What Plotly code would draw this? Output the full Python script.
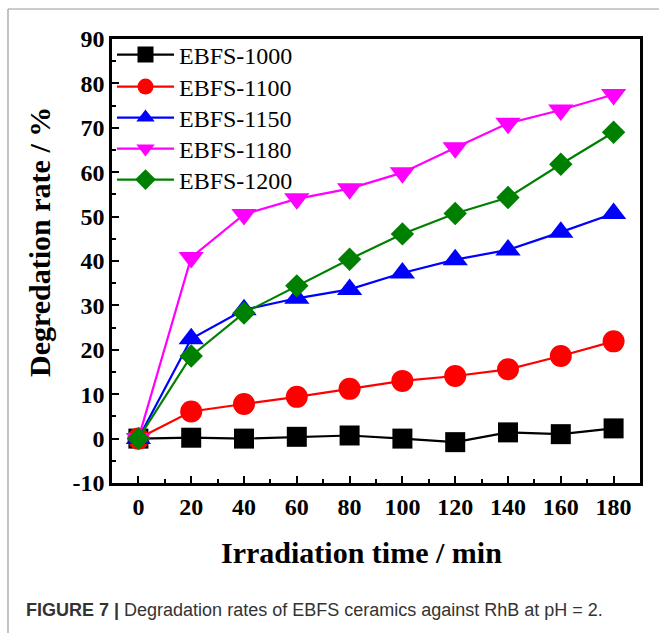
import plotly.graph_objects as go

time_min = [0, 20, 40, 60, 80, 100, 120, 140, 160, 180]

ebfs_1000 = [0, 0.2, 0.0, 0.4, 0.7, 0.0, -0.8, 1.4, 1.0, 2.3]
ebfs_1100 = [0, 6.1, 7.8, 9.4, 11.2, 13.0, 14.1, 15.6, 18.6, 21.9]
ebfs_1150 = [0, 22.5, 29.0, 31.6, 33.6, 37.3, 40.3, 42.5, 46.5, 50.7]
ebfs_1180 = [0, 40.8, 50.5, 54.0, 56.3, 59.9, 65.5, 71.0, 74.0, 77.5]
ebfs_1200 = [0, 18.6, 28.3, 34.4, 40.4, 46.1, 50.7, 54.3, 61.8, 69.0]

series_names = ["EBFS-1000", "EBFS-1100", "EBFS-1150", "EBFS-1180", "EBFS-1200"]
series_values = [ebfs_1000, ebfs_1100, ebfs_1150, ebfs_1180, ebfs_1200]
series_colors = ["#000000", "#FF0000", "#0000FF", "#FF00FF", "#008000"]
series_symbols = ["square", "circle", "triangle-up", "triangle-down", "diamond"]
series_sizes = [20, 22, 22, 22, 18]

x_ticks = [0, 20, 40, 60, 80, 100, 120, 140, 160, 180]
y_ticks = [-10, 0, 10, 20, 30, 40, 50, 60, 70, 80, 90]

x_title = "Irradiation time / min"
y_title = "Degredation rate / %"
caption = "<b>FIGURE 7 |</b> Degradation rates of EBFS ceramics against RhB at pH = 2."

W, H = 659, 633
L, R, T, B = 112, 19, 39, 150
pw, ph = W - L - R, H - T - B


def px_to_paper_x(px):
    return (px - L) / pw


def px_to_paper_y(py):
    return (H - B - py) / ph


legend_ids = ["legend", "legend2", "legend3", "legend4", "legend5"]
legend_rows_px = [55, 87, 118, 149, 180]

fig = go.Figure()
for name, vals, col, sym, sz, lg in zip(series_names, series_values, series_colors,
                                        series_symbols, series_sizes, legend_ids):
    fig.add_trace(go.Scatter(
        x=time_min, y=vals, name=name, mode="lines+markers",
        line=dict(color=col, width=2.2),
        marker=dict(symbol=sym, size=sz, color=col, line=dict(width=0)),
        legend=lg,
    ))

axis_font = dict(family="Liberation Serif", size=24, color="#000000", weight="bold")
title_font = dict(family="Liberation Serif", size=30, color="#000000", weight="bold")

layout_legends = {}
for lg, row in zip(legend_ids, legend_rows_px):
    layout_legends[lg] = dict(
        x=0.0, y=px_to_paper_y(row), xanchor="left", yanchor="middle",
        bgcolor="rgba(0,0,0,0)", borderwidth=0,
        font=dict(family="Liberation Serif", size=24, color="#000000"),
        itemwidth=57,
    )

fig.update_layout(
    width=W, height=H,
    margin=dict(l=L, r=R, t=T, b=B, pad=0),
    paper_bgcolor="#FFFFFF", plot_bgcolor="#FFFFFF",
    showlegend=True,
    xaxis=dict(
        range=[-10, 190], tickvals=x_ticks, ticktext=[str(v) for v in x_ticks],
        ticks="inside", ticklen=7, tickwidth=2, tickcolor="#000000",
        minor=dict(dtick=10, tick0=0, ticks="inside", ticklen=4, tickwidth=2, tickcolor="#000000"),
        showline=True, linewidth=2.5, linecolor="#000000", mirror=True,
        showgrid=False, zeroline=False, tickfont=axis_font,
    ),
    yaxis=dict(
        range=[-10, 90], tickvals=y_ticks, ticktext=[str(v) for v in y_ticks],
        ticks="inside", ticklen=7, tickwidth=2, tickcolor="#000000",
        minor=dict(dtick=5, tick0=0, ticks="inside", ticklen=4, tickwidth=2, tickcolor="#000000"),
        showline=True, linewidth=2.5, linecolor="#000000", mirror=True,
        showgrid=False, zeroline=False, tickfont=axis_font,
    ),
    **layout_legends,
)

# axis titles (placed as in the reference, slightly off-centre)
fig.add_annotation(
    xref="paper", yref="paper", x=px_to_paper_x(361), y=px_to_paper_y(552),
    xanchor="center", yanchor="middle", showarrow=False,
    text=x_title, font=title_font,
)
fig.add_annotation(
    xref="paper", yref="paper", x=px_to_paper_x(39), y=px_to_paper_y(242),
    xanchor="center", yanchor="middle", showarrow=False, textangle=-90,
    text=y_title, font=title_font,
)

# figure frame (top and left rules of the figure panel)
frame_x = px_to_paper_x(8)
frame_y = px_to_paper_y(9)
fig.add_shape(type="line", xref="paper", yref="paper",
              x0=frame_x, x1=px_to_paper_x(W), y0=frame_y, y1=frame_y,
              line=dict(color="#9A9A9A", width=1.2))
fig.add_shape(type="line", xref="paper", yref="paper",
              x0=frame_x, x1=frame_x, y0=px_to_paper_y(H), y1=frame_y,
              line=dict(color="#9A9A9A", width=1.2))

fig.add_annotation(
    xref="paper", yref="paper", x=px_to_paper_x(24), y=px_to_paper_y(610),
    xanchor="left", yanchor="middle", showarrow=False,
    text=caption,
    font=dict(family="Liberation Sans", size=18, color="#333333"),
)

fig.write_html("out.html")
